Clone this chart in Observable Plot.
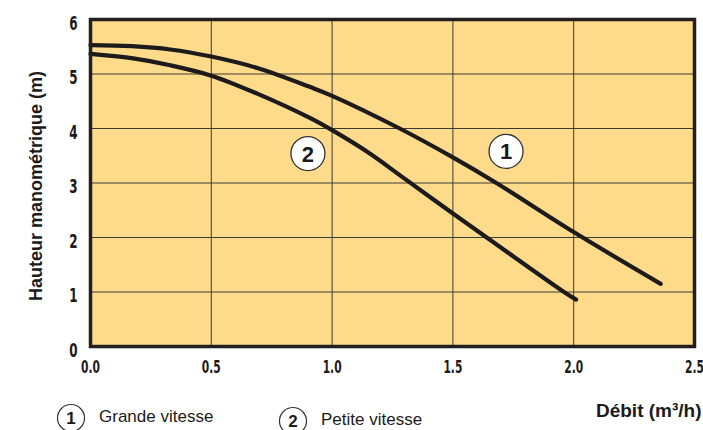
<!DOCTYPE html>
<html>
<head>
<meta charset="utf-8">
<script src="https://cdn.jsdelivr.net/npm/d3@7"></script>
<script src="https://cdn.jsdelivr.net/npm/@observablehq/plot@0.6"></script>
<style>
  html, body { margin: 0; padding: 0; background: #ffffff; }
  #chart { width: 703px; height: 430px; }
</style>
</head>
<body>
<div id="chart"></div>
<script>
// Data
const debitGrande = [0, 0.17, 0.33, 0.5, 0.69, 0.91, 1.0, 1.28, 1.5, 1.68, 2.0, 2.36];
const hauteurGrande = [5.53, 5.51, 5.45, 5.32, 5.11, 4.76, 4.6, 4.0, 3.47, 3.0, 2.1, 1.15];
const debitPetite = [0, 0.17, 0.33, 0.5, 0.69, 0.91, 1.0, 1.15, 1.30, 1.5, 1.64, 1.96, 2.01];
const hauteurPetite = [5.37, 5.29, 5.16, 4.97, 4.64, 4.19, 3.97, 3.56, 3.08, 2.44, 2.0, 1.0, 0.86];
const xTicks = [0, 0.5, 1.0, 1.5, 2.0, 2.5];
const yTicks = [0, 1, 2, 3, 4, 5, 6];
const curveLabels = ["1", "2"];
const curveLabelX = [1.72, 0.90];
const curveLabelY = [3.58, 3.54];
const legendNames = ["Grande vitesse", "Petite vitesse"];
const xTitle = "Débit (m³/h)";
const yTitle = "Hauteur manométrique (m)";

const grande = debitGrande.map((d, i) => ({debit: d, hauteur: hauteurGrande[i]}));
const petite = debitPetite.map((d, i) => ({debit: d, hauteur: hauteurPetite[i]}));
const labels = curveLabels.map((t, i) => ({t, x: curveLabelX[i], y: curveLabelY[i]}));

const condensed = "'DejaVu Sans Condensed', 'Liberation Sans Narrow', sans-serif";
const sans = "'Liberation Sans', Arial, sans-serif";

const plot = Plot.plot({
  width: 703,
  height: 430,
  marginLeft: 90,
  marginRight: 9,
  marginTop: 19,
  marginBottom: 84,
  x: {domain: [0, 2.5]},
  y: {domain: [0, 6]},
  style: {background: "transparent", overflow: "visible"},
  marks: [
    Plot.frame({fill: "#FEDB8B", stroke: null}),
    Plot.gridX(xTicks.slice(1, -1), {stroke: "#3d3a33", strokeOpacity: 1, strokeWidth: 1}),
    Plot.gridY(yTicks.slice(1, -1), {stroke: "#3d3a33", strokeOpacity: 1, strokeWidth: 1}),
    Plot.line(grande, {x: "debit", y: "hauteur", curve: "catmull-rom", stroke: "#1c1a1a", strokeWidth: 4.2, strokeLinecap: "round"}),
    Plot.line(petite, {x: "debit", y: "hauteur", curve: "catmull-rom", stroke: "#1c1a1a", strokeWidth: 4.2, strokeLinecap: "round"}),
    Plot.dot(labels, {x: "x", y: "y", r: 17, fill: "white", stroke: "#333", strokeWidth: 1.3}),
    Plot.text(labels, {x: "x", y: "y", text: "t", fontSize: 22, fontWeight: "bold", fontFamily: sans, fill: "#1c1a1a", dy: 1}),
    Plot.frame({stroke: "#231f20", strokeWidth: 3.5}),
    Plot.axisX(xTicks, {tickSize: 0, tickPadding: 14, tickFormat: d3.format(".1f"), fontSize: 18, fontWeight: "bold", fontFamily: condensed, fill: "#1c1a1a", label: null}),
    Plot.axisY(yTicks, {tickSize: 0, tickPadding: 13, tickFormat: d3.format("d"), fontSize: 19, fontWeight: "bold", fontFamily: condensed, fill: "#1c1a1a", label: null, dy: 4}),
    Plot.text([yTitle], {frameAnchor: "left", dx: -54, rotate: -90, textAnchor: "middle", fontSize: 18, fontWeight: "bold", fontFamily: sans, fill: "#1c1a1a", dy: 3}),
    Plot.text([xTitle], {frameAnchor: "bottom-right", dx: 7, dy: 70, textAnchor: "end", fontSize: 19, fontWeight: "bold", fontFamily: sans, fill: "#1c1a1a"})
  ]
});

document.getElementById("chart").appendChild(plot);

const svg = d3.select(plot);
// Narrow, tall tick numerals like the reference's condensed face
function narrow(selector, anchor, k) {
  svg.selectAll(selector).each(function() {
    const b = this.getBBox();
    const cx = anchor === "end" ? b.x + b.width : b.x + b.width / 2;
    const t = d3.select(this);
    const tr = t.attr("transform") || "";
    t.attr("transform", `${tr} translate(${cx},0) scale(${k},1) translate(${-cx},0)`);
  });
}
narrow("g[aria-label='x-axis tick label'] text", "middle", 0.66);
narrow("g[aria-label='y-axis tick label'] text", "end", 0.7);

// Legend below the plot
const legendX = [71, 293];
const legendY = [418, 421];
const g = svg.append("g");
curveLabels.forEach((t, i) => {
  g.append("circle").attr("cx", legendX[i]).attr("cy", legendY[i]).attr("r", 13.5)
    .attr("fill", "white").attr("stroke", "#333").attr("stroke-width", 1.2);
  g.append("text").attr("x", legendX[i]).attr("y", legendY[i]).attr("dy", "0.36em")
    .attr("text-anchor", "middle").attr("font-family", sans).attr("font-weight", "bold")
    .attr("font-size", 17).attr("fill", "#1c1a1a").text(t);
  g.append("text").attr("x", legendX[i] + 28).attr("y", legendY[i] - 2).attr("dy", "0.36em")
    .attr("text-anchor", "start")
    .attr("font-family", sans).attr("font-size", 17).attr("fill", "#1c1a1a").text(legendNames[i]);
});
</script>
</body>
</html>
